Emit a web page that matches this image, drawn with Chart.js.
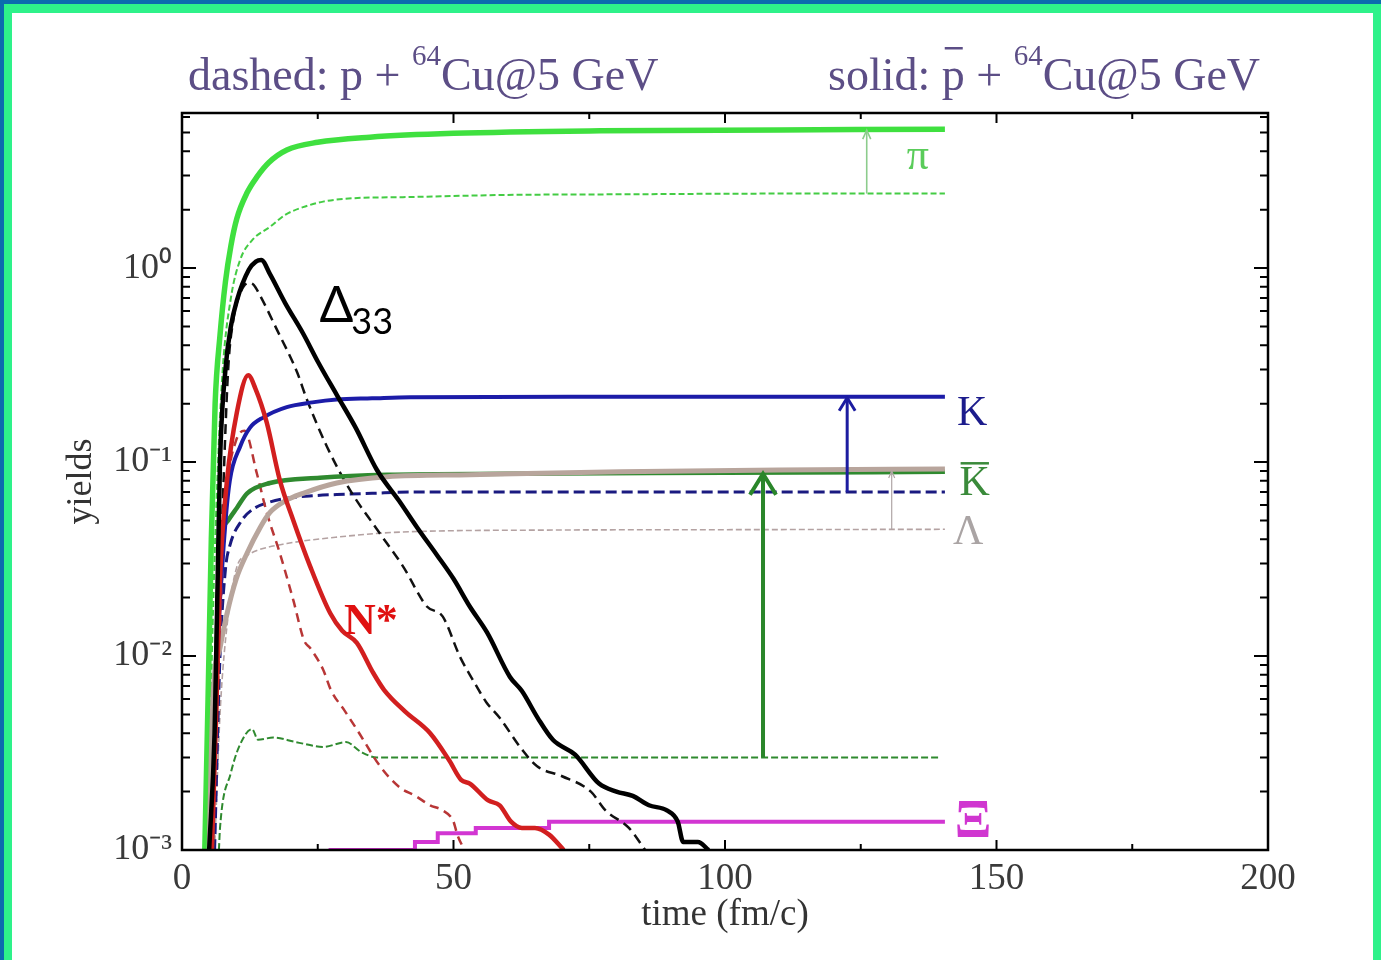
<!DOCTYPE html>
<html><head><meta charset="utf-8">
<script src="https://cdn.jsdelivr.net/npm/chart.js@4.4.1/dist/chart.umd.min.js"></script>
<style>html,body{margin:0;padding:0;background:#fff;overflow:hidden}canvas{display:block}</style>
</head><body>
<canvas id="c" width="1381" height="960" style="width:1381px;height:960px"></canvas>
<script>
// ---------- axis ticks ----------
const xTickValues = [0, 50, 100, 150, 200];
const yTickValues = [0.001, 0.01, 0.1, 1];
const yTickLabels = ['10\u207B\u00B3', '10\u207B\u00B2', '10\u207B\u00B9', '10\u2070'];

// ---------- series (time in fm/c, yields) ----------
// pi, pbar + Cu (solid)
const piSolidT = [4.2, 4.8, 5.4, 6.1, 7.0, 8.0, 9.0, 10.1, 12, 13.8, 16, 19.3, 25, 34.6, 50, 77, 110, 140.5];
const piSolidY = [0.001, 0.006, 0.04, 0.2, 0.45, 0.85, 1.3, 1.8, 2.45, 2.95, 3.5, 4.06, 4.45, 4.73, 4.95, 5.1, 5.15, 5.2];
// pi, p + Cu (dashed)
const piDashT = [4.8, 5.5, 6.5, 7.5, 9, 10.7, 13, 16.2, 19, 22.3, 26, 31.5, 40.7, 59, 80.7, 110, 140.5];
const piDashY = [0.001, 0.01, 0.08, 0.3, 0.7, 1.1, 1.4, 1.63, 1.88, 2.06, 2.2, 2.29, 2.32, 2.38, 2.4, 2.42, 2.42];
// Delta33 solid
const deltaSolidT = [5.0, 6.0, 6.5, 7.0, 8.0, 9.0, 10.1, 12.3, 13.6, 14.6, 16.2, 19, 22.3, 25, 28.5, 32, 35.9, 40, 43.3, 47, 50, 53, 56.2, 60.4, 62.6, 65.5, 68.3, 72.4, 76.8, 80, 83, 86, 89.3, 91.3, 92.3, 95, 97];
const deltaSolidY = [0.001, 0.004, 0.02, 0.1, 0.3, 0.5, 0.68, 0.98, 1.08, 1.1, 0.93, 0.66, 0.46, 0.33, 0.222, 0.15, 0.091, 0.063, 0.046, 0.033, 0.025, 0.018, 0.0132, 0.0078, 0.0066, 0.0048, 0.0037, 0.0031, 0.0022, 0.002, 0.0019, 0.0017, 0.0016, 0.0014, 0.0011, 0.0011, 0.001];
// Delta33 dashed
const deltaDashT = [5.5, 6.5, 7.5, 8.5, 9.5, 10.7, 12.3, 13.2, 14.4, 17.5, 21.2, 23, 26.7, 30.9, 35.9, 40.7, 45.1, 48, 51.2, 53.6, 56, 58.5, 62.6, 65.4, 70, 75.3, 78, 82.3, 85.3];
const deltaDashY = [0.001, 0.008, 0.06, 0.3, 0.55, 0.74, 0.84, 0.82, 0.72, 0.48, 0.29, 0.21, 0.12, 0.072, 0.045, 0.029, 0.018, 0.016, 0.0099, 0.0075, 0.0058, 0.0048, 0.0033, 0.0027, 0.0024, 0.002, 0.0016, 0.0013, 0.001];
// N* solid
const nstarSolidT = [5.5, 6.3, 7.0, 8.3, 10.1, 12.2, 13.5, 15.6, 18, 20.5, 23.6, 27.3, 29.5, 32.2, 35.2, 37.2, 41, 45.7, 49.2, 51.4, 53, 56.4, 58.5, 60.6, 62.6, 65, 67.6, 70.3];
const nstarSolidY = [0.001, 0.005, 0.025, 0.081, 0.18, 0.28, 0.24, 0.16, 0.081, 0.05, 0.029, 0.0166, 0.0135, 0.0117, 0.0082, 0.0067, 0.0052, 0.004, 0.0029, 0.0023, 0.0022, 0.0018, 0.0017, 0.0014, 0.0013, 0.0013, 0.0012, 0.001];
// N* dashed
const nstarDashT = [5.5, 6.5, 7.5, 8.5, 10, 11.5, 13.8, 15.6, 18, 20.5, 22.5, 23.6, 26, 27.4, 30, 32.4, 36.5, 40.1, 43, 45.7, 48, 50, 50.7, 52];
const nstarDashY = [0.001, 0.006, 0.03, 0.08, 0.13, 0.145, 0.087, 0.055, 0.034, 0.0194, 0.012, 0.011, 0.0085, 0.0067, 0.0052, 0.0041, 0.0027, 0.0021, 0.0019, 0.0017, 0.0016, 0.0014, 0.0012, 0.001];
// K solid
const kSolidT = [5.5, 6.5, 7.9, 8.8, 10.7, 12.5, 15, 19.3, 24, 28.5, 35, 42, 80, 140.5];
const kSolidY = [0.001, 0.01, 0.045, 0.08, 0.12, 0.15, 0.17, 0.192, 0.203, 0.21, 0.213, 0.216, 0.217, 0.217];
// K dashed
const kDashT = [6, 7, 8, 8.8, 11, 13, 16, 19.3, 24, 28.5, 35, 42, 80, 140.5];
const kDashY = [0.001, 0.01, 0.028, 0.037, 0.05, 0.057, 0.062, 0.065, 0.067, 0.068, 0.069, 0.07, 0.07, 0.07];
// Kbar solid
const kbarSolidT = [5.5, 6.2, 7, 8.5, 10.1, 12, 16.2, 25.4, 37.8, 60, 100, 140.5];
const kbarSolidY = [0.001, 0.008, 0.036, 0.05, 0.058, 0.069, 0.078, 0.083, 0.086, 0.087, 0.088, 0.089];
// Kbar dashed
const kbarDashT = [6.8, 7, 9, 10.5, 12.9, 14, 16.8, 21, 26, 30.2, 33, 35.9, 60, 100, 139.6];
const kbarDashY = [0.001, 0.0013, 0.0025, 0.0034, 0.0042, 0.0037, 0.0038, 0.0036, 0.0034, 0.0036, 0.0032, 0.003, 0.003, 0.003, 0.003];
// Lambda solid
const lamSolidT = [5.0, 5.7, 7, 8.3, 10, 12, 14.4, 16.2, 19, 22.3, 28.5, 37.8, 53, 80.7, 110, 140.5];
const lamSolidY = [0.001, 0.006, 0.011, 0.0166, 0.025, 0.034, 0.046, 0.055, 0.063, 0.069, 0.078, 0.084, 0.086, 0.089, 0.091, 0.092];
// Lambda dashed
const lamDashT = [6, 7, 8, 10.1, 12, 13.8, 19.3, 28.5, 40.7, 68.3, 100, 140.5];
const lamDashY = [0.001, 0.005, 0.012, 0.0288, 0.033, 0.035, 0.038, 0.041, 0.0436, 0.0446, 0.0448, 0.045];
// Xi solid (stepped)
const xiT = [27, 42.9, 47.1, 54.1, 67.6, 140.5];
const xiY = [0.001, 0.0011, 0.00122, 0.0013, 0.0014, 0.0014];

// arrows: time, from (p+Cu) to (pbar+Cu)
const arrowT = [126.1, 122.5, 107, 130.7];
const arrowFrom = [2.42, 0.07, 0.003, 0.045];
const arrowTo = [5.2, 0.217, 0.088, 0.091];

// ---------- build ----------
const pts = (t, y) => t.map((v, i) => ({x: v, y: y[i]}));
function ds(t, y, color, width, dash, extra) {
  return Object.assign({data: pts(t, y), borderColor: color, borderWidth: width, borderDash: dash || [],
    pointRadius: 0, fill: false, cubicInterpolationMode: 'monotone'}, extra || {});
}
const datasets = [
  ds(deltaSolidT, deltaSolidY, '#000000', 4.5),
  ds(nstarSolidT, nstarSolidY, '#d21f1f', 4.5),
  ds(kSolidT, kSolidY, '#1c1ca8', 4),
  ds(lamSolidT, lamSolidY, '#b8a59c', 5),
  ds(kbarSolidT, kbarSolidY, '#2f8a2f', 4.5),
  ds(piSolidT, piSolidY, '#3fe03f', 5.5),
  ds(deltaDashT, deltaDashY, '#111111', 2.5, [10, 6]),
  ds(nstarDashT, nstarDashY, '#b83636', 2.5, [9, 6]),
  ds(kDashT, kDashY, '#1a1a80', 3, [11, 5]),
  ds(kbarDashT, kbarDashY, '#2f8a2f', 2, [7, 3]),
  ds(lamDashT, lamDashY, '#b4a2a2', 1.6, [6, 3]),
  ds(piDashT, piDashY, '#44cc44', 2, [6, 3]),
  ds(xiT, xiY, '#d236d2', 4, [], {stepped: true, cubicInterpolationMode: 'default'})
];

const arrowStyles = [
  {color: '#8ccc8c', width: 1.6, half: 4, len: 10},
  {color: '#1c1ca0', width: 3, half: 8, len: 14},
  {color: '#2a862a', width: 4, half: 13, len: 22},
  {color: '#b0a6a6', width: 1.2, half: 3, len: 8}
];

const curveLabels = [
  {text: '\u03C0', t: 135.5, v: 3.7, color: '#5acc5a', font: '44px "Liberation Serif"'},
  {text: 'K', t: 145.5, v: 0.177, color: '#1c1c8c', font: '42px "Liberation Serif"'},
  {text: 'K', t: 146, v: 0.077, color: '#3a8a3a', font: '42px "Liberation Serif"', bar: true},
  {text: '\u039B', t: 144.8, v: 0.043, color: '#aaa4a4', font: '42px "Liberation Serif"'},
  {text: 'N*', t: 34.8, v: 0.0148, color: '#e01010', font: 'bold 44px "Liberation Serif"'},
  {text: '\u039E', t: 145.7, v: 0.00138, color: '#d036d0', font: 'bold 54px "Liberation Serif"'}
];

const framePlugin = {
  id: 'frame',
  beforeDraw(chart) {
    const {ctx, width, height} = chart;
    ctx.save();
    ctx.fillStyle = '#2ef28a'; ctx.fillRect(0, 0, width, height);
    ctx.fillStyle = '#0b6cae'; ctx.fillRect(0, 0, width, 4); ctx.fillRect(0, 0, 4, height);
    ctx.fillStyle = '#ffffff'; ctx.fillRect(12, 13, width - 20, height - 13);
    ctx.restore();
  },
  afterDatasetsDraw(chart) {
    const {ctx} = chart; const xs = chart.scales.x, ys = chart.scales.y;
    ctx.save();
    arrowT.forEach((t, i) => {
      const st = arrowStyles[i];
      const px = xs.getPixelForValue(t), y0 = ys.getPixelForValue(arrowFrom[i]), y1 = ys.getPixelForValue(arrowTo[i]);
      ctx.strokeStyle = st.color; ctx.lineWidth = st.width; ctx.lineCap = 'butt';
      ctx.beginPath(); ctx.moveTo(px, y0); ctx.lineTo(px, y1 + 1); ctx.stroke();
      ctx.beginPath(); ctx.moveTo(px - st.half, y1 + st.len); ctx.lineTo(px, y1 + 1); ctx.lineTo(px + st.half, y1 + st.len); ctx.stroke();
    });
    ctx.restore();
  },
  afterDraw(chart) {
    const {ctx, chartArea: a} = chart; const xs = chart.scales.x, ys = chart.scales.y;
    ctx.save();
    ctx.strokeStyle = '#000'; ctx.lineWidth = 2.5;
    ctx.strokeRect(a.left, a.top, a.right - a.left, a.bottom - a.top);
    ctx.lineWidth = 2;
    for (let t = 0; t <= 200; t += 25) {
      const px = xs.getPixelForValue(t); const L = (t % 50 === 0) ? 10 : 6;
      ctx.beginPath(); ctx.moveTo(px, a.bottom); ctx.lineTo(px, a.bottom - L);
      ctx.moveTo(px, a.top); ctx.lineTo(px, a.top + L); ctx.stroke();
    }
    for (let d = -3; d <= 0; d++) {
      for (let k = 1; k <= 9; k++) {
        const v = k * Math.pow(10, d); if (v > ys.max) break;
        const py = ys.getPixelForValue(v); const L = k === 1 ? 14 : 8;
        ctx.beginPath(); ctx.moveTo(a.left, py); ctx.lineTo(a.left + L, py);
        ctx.moveTo(a.right, py); ctx.lineTo(a.right - L, py); ctx.stroke();
      }
    }
    // curve labels
    ctx.textAlign = 'center'; ctx.textBaseline = 'middle';
    curveLabels.forEach(l => {
      const px = xs.getPixelForValue(l.t), py = ys.getPixelForValue(l.v);
      ctx.font = l.font; ctx.fillStyle = l.color; ctx.fillText(l.text, px, py);
      if (l.bar) {
        const w = ctx.measureText(l.text).width;
        ctx.fillRect(px - w / 2 + 1, py - 22, w - 2, 2.5);
      }
    });
    // Delta33
    const dx = xs.getPixelForValue(25.3), dy = ys.getPixelForValue(0.53);
    ctx.textAlign = 'left'; ctx.textBaseline = 'alphabetic'; ctx.fillStyle = '#000';
    ctx.font = '50px Lato'; ctx.fillText('\u0394', dx, dy);
    const dw = ctx.measureText('\u0394').width;
    ctx.font = '36px Lato'; ctx.fillText('33', dx + dw - 2, dy + 12);
    // header texts
    const tc = '#5c4e86';
    function header(x, y, pre, bar) {
      ctx.fillStyle = tc; ctx.font = '46px "Liberation Serif"';
      ctx.fillText(pre, x, y);
      let w = ctx.measureText(pre).width;
      if (bar) {
        const pw = ctx.measureText('solid: ').width, ww = ctx.measureText('p').width;
        ctx.fillRect(x + pw + 3, y - 43, ww - 5, 2.5);
      }
      ctx.font = '29px "Liberation Serif"'; ctx.fillText('64', x + w, y - 25);
      w += ctx.measureText('64').width;
      ctx.font = '46px "Liberation Serif"'; ctx.fillText('Cu@5 GeV', x + w, y);
    }
    header(188, 90, 'dashed: p + ', false);
    header(828, 90, 'solid: p + ', true);
    ctx.restore();
  }
};

new Chart(document.getElementById('c'), {
  type: 'line',
  data: {datasets},
  plugins: [framePlugin],
  options: {
    responsive: false, animation: false, devicePixelRatio: 1,
    layout: {padding: {left: 60, right: 113, top: 113, bottom: 23}},
    plugins: {legend: {display: false}, tooltip: {enabled: false}},
    scales: {
      x: {
        type: 'linear', min: 0, max: 200,
        afterBuildTicks: s => { s.ticks = xTickValues.map(v => ({value: v})); },
        afterFit: s => { s.height = 87; },
        grid: {display: false, drawTicks: false}, border: {display: false},
        ticks: {padding: 7, color: '#3a3a3a', font: {family: 'Liberation Serif', size: 37}, maxRotation: 0},
        title: {display: true, text: 'time (fm/c)', color: '#333', font: {family: 'Liberation Serif', size: 37}, padding: 0}
      },
      y: {
        type: 'logarithmic', min: 0.001, max: 6.3,
        afterBuildTicks: s => { s.ticks = yTickValues.map(v => ({value: v})); },
        afterFit: s => { s.width = 122; },
        grid: {display: false, drawTicks: false}, border: {display: false},
        ticks: {padding: 10, color: '#3a3a3a', font: {family: 'Liberation Serif', size: 36},
          callback: (v, i) => yTickLabels[i]},
        title: {display: true, text: 'yields', color: '#333', font: {family: 'Liberation Serif', size: 36}, padding: 0}
      }
    }
  }
});
</script></body></html>
